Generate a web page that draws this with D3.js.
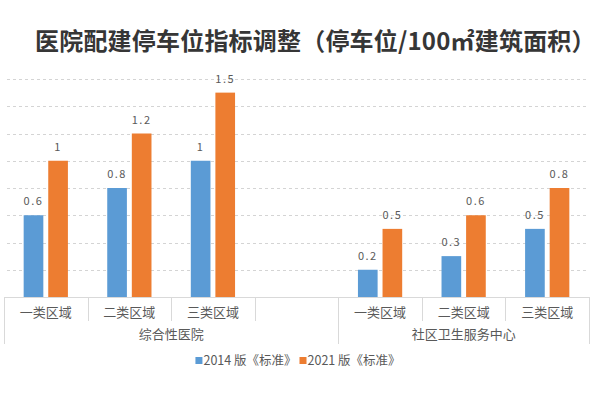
<!DOCTYPE html>
<html>
<head>
<meta charset="utf-8">
<script src="https://cdn.jsdelivr.net/npm/d3@7"></script>
<style>
  body { margin: 0; background: #fff; }
  text { font-family: "Noto Sans CJK SC", "Noto Sans", sans-serif; }
</style>
</head>
<body>
<div id="chart"></div>
<script>
// chart values
const title = '医院配建停车位指标调整（停车位/100㎡建筑面积）';
const categories = ['一类区域', '二类区域', '三类区域', '', '一类区域', '二类区域', '三类区域'];
const groups = [
  { name: '综合性医院', span: 4 },
  { name: '社区卫生服务中心', span: 3 }
];
const seriesNames = ['2014 版《标准》', '2021 版《标准》'];
const values2014 = [0.6, 0.8, 1, null, 0.2, 0.3, 0.5];
const values2021 = [1, 1.2, 1.5, null, 0.5, 0.6, 0.8];
const gridTicks = [0.2, 0.4, 0.6, 0.8, 1.0, 1.2, 1.4, 1.6];

const colors = ['#5b9bd5', '#ed7d31'];

const W = 610, H = 393;
const plotLeft = 4, plotRight = 589, base = 297, plotTop = 79;

const svg = d3.select('#chart').append('svg')
  .attr('width', W)
  .attr('height', H);

// title
svg.append('text')
  .attr('x', 35)
  .attr('y', 50)
  .attr('font-size', 24)
  .attr('font-weight', 'bold')
  .attr('letter-spacing', 0.2)
  .attr('fill', '#363636')
  .text(title);

const slots = d3.range(categories.length);
const x = d3.scaleBand(slots, [plotLeft, plotRight]).padding(0);
const x1 = d3.scaleBand([0, 1], [0, x.bandwidth()])
  .paddingInner(0.2)
  .paddingOuter(0.8);
const y = d3.scaleLinear([0, 1.6], [base, plotTop]);

// gridlines
svg.append('g')
  .selectAll('line')
  .data(gridTicks)
  .join('line')
  .attr('x1', plotLeft + 3)
  .attr('x2', plotRight)
  .attr('y1', d => Math.round(y(d)) + 0.5)
  .attr('y2', d => Math.round(y(d)) + 0.5)
  .attr('stroke', '#d4d4d4')
  .attr('stroke-dasharray', '3,3');

// bars
const rows = slots.map(i => ({ i, v: [values2014[i], values2021[i]] }));
const barG = svg.append('g');
seriesNames.forEach((s, k) => {
  const pts = rows.filter(r => r.v[k] != null);
  barG.selectAll('.b' + k)
    .data(pts)
    .join('rect')
    .attr('class', 'b' + k)
    .attr('x', d => x(d.i) + x1(k))
    .attr('width', x1.bandwidth())
    .attr('y', d => y(d.v[k]))
    .attr('height', d => base - y(d.v[k]))
    .attr('fill', colors[k]);
  barG.selectAll('.l' + k)
    .data(pts)
    .join('text')
    .attr('class', 'l' + k)
    .attr('x', d => x(d.i) + x1(k) + x1.bandwidth() / 2)
    .attr('y', d => y(d.v[k]) - 10)
    .attr('text-anchor', 'middle')
    .attr('font-size', 11)
    .attr('letter-spacing', 1.5)
    .attr('fill', '#595959')
    .text(d => String(d.v[k]));
});

// category axis
const axisG = svg.append('g');
const lineColor = '#d9d9d9';
axisG.append('line')
  .attr('x1', plotLeft).attr('x2', plotRight)
  .attr('y1', base + 0.5).attr('y2', base + 0.5)
  .attr('stroke', lineColor);

axisG.selectAll('.cat')
  .data(slots)
  .join('text')
  .attr('class', 'cat')
  .attr('x', i => x(i) + x.bandwidth() / 2)
  .attr('y', 317)
  .attr('text-anchor', 'middle')
  .attr('font-size', 13)
  .attr('fill', '#595959')
  .text(i => categories[i]);

// group boundaries
let acc = 0;
const groupBounds = groups.map(g => {
  const start = acc;
  acc += g.span;
  return { name: g.name, start, end: acc };
});
const longIdx = [0, ...groupBounds.map(g => g.end)];
const shortIdx = slots.filter(i => !longIdx.includes(i));
const edge = i => (i === slots.length ? plotRight : x(i));

axisG.selectAll('.short')
  .data(shortIdx)
  .join('line')
  .attr('class', 'short')
  .attr('x1', i => Math.round(edge(i)) + 0.5)
  .attr('x2', i => Math.round(edge(i)) + 0.5)
  .attr('y1', base)
  .attr('y2', 321)
  .attr('stroke', lineColor);

axisG.selectAll('.long')
  .data(longIdx)
  .join('line')
  .attr('class', 'long')
  .attr('x1', i => Math.round(edge(i)) + 0.5)
  .attr('x2', i => Math.round(edge(i)) + 0.5)
  .attr('y1', base)
  .attr('y2', 344)
  .attr('stroke', lineColor);

axisG.selectAll('.grp')
  .data(groupBounds)
  .join('text')
  .attr('class', 'grp')
  .attr('x', g => (edge(g.start) + edge(g.end)) / 2)
  .attr('y', 339)
  .attr('text-anchor', 'middle')
  .attr('font-size', 13)
  .attr('fill', '#595959')
  .text(g => g.name);

// legend
const legend = svg.append('g');
const items = legend.selectAll('g')
  .data(seriesNames)
  .join('g');
items.append('rect')
  .attr('width', 7)
  .attr('height', 7)
  .attr('y', -8)
  .attr('fill', (d, k) => colors[k]);
items.append('text')
  .attr('x', 8)
  .attr('font-size', 12.5)
  .attr('fill', '#595959')
  .text(d => d);
let lx = 0;
items.each(function () {
  const w = this.getBBox().width;
  d3.select(this).attr('transform', `translate(${lx},0)`);
  lx += w + 3;
});
legend.attr('transform', `translate(${298 - (lx - 3) / 2},365)`);
</script>
</body>
</html>
